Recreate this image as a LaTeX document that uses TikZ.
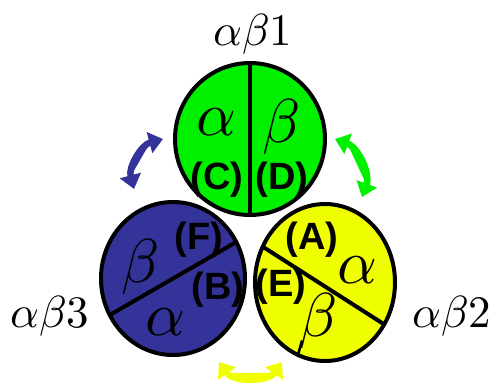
\documentclass[tikz,border=0pt]{standalone}
\usepackage{fontspec}
\usepackage{unicode-math}
\newfontfamily\tagfont{Liberation Sans}
\usetikzlibrary{shapes.geometric,arrows.meta}

\definecolor{unitgreen}{RGB}{0,240,0}
\definecolor{unitblue}{RGB}{51,51,153}
\definecolor{unityellow}{RGB}{240,255,0}

\begin{document}
\begin{tikzpicture}[
  x=1pt, y=-1pt,
  unit/.style={ellipse, draw=black, line width=4pt, inner sep=0pt},
  split/.style={line width=4pt},
  greek/.style={font=\fontsize{62}{62}\selectfont, inner sep=0pt},
  part/.style={font=\tagfont\bfseries\fontsize{38}{38}\selectfont, inner sep=0pt},
  caption/.style={font=\fontsize{45}{45}\selectfont},
  flip/.style={{Triangle[length=14pt,width=21pt]}-{Triangle[length=14pt,width=21pt]}, line width=6.5pt}
]
\useasboundingbox (0,0) rectangle (497,386);

% the three subunits
\node[unit, fill=unitblue, minimum width=144pt, minimum height=153pt,
  path picture={\draw[split] ([shift={(30:120pt)}]path picture bounding box.center)
    -- ([shift={(210:120pt)}]path picture bounding box.center);}] (u3) at (173,278.5) {};
\node[unit, fill=unityellow, minimum width=140pt, minimum height=157pt,
  path picture={\draw[split] ([shift={(147.4:120pt)},yshift=-4pt]path picture bounding box.center)
    -- ([shift={(-32.6:120pt)},yshift=-4pt]path picture bounding box.center);
    \draw[line width=2.5pt] ([shift={(-23pt,-58pt)}]path picture bounding box.center)
    -- ([shift={(-32pt,-90pt)}]path picture bounding box.center);}] (u2) at (325,282.5) {};
\node[unit, fill=unitgreen, minimum width=150pt, minimum height=152pt,
  path picture={\draw[split] ([yshift=90pt]path picture bounding box.center)
    -- ([yshift=-90pt]path picture bounding box.center);}] (u1) at (250,139) {};

% subunit names
\node[caption] (n1) at (253,34) {$\alpha\beta1$};
\node[caption] (n2) at (452,316) {$\alpha\beta2$};
\node[caption] (n3) at (50,316) {$\alpha\beta3$};

% green
\node[greek] (g1) at (216,122) {$\alpha$};
\node[greek] (g2) at (281,127) {$\beta$};
\node[part] (c) at (217,180) {(C)};
\node[part] (d) at (282,180) {(D)};

% blue
\node[greek] (b1) at (140,267) {$\beta$};
\node[greek] (b2) at (165,322) {$\alpha$};
\node[part] (f) at (199,240) {(F)};
\node[part] (b) at (218,290) {(B)};

% yellow
\node[greek] (y1) at (357,270) {$\alpha$};
\node[greek] (y2) at (318,321) {$\beta$};
\node[part] (a) at (312,240) {(A)};
\node[part] (e) at (281,287) {(E)};

% rotation arrows
\coordinate (p1) at (163,139);
\coordinate (p2) at (134,189);
\coordinate (q1) at (335,139);
\coordinate (q2) at (362,197);
\coordinate (r1) at (219,362);
\coordinate (r2) at (282,362);
\draw[flip, draw=unitblue, fill=unitblue] (p1) to[bend right=45] (p2);
\draw[flip, draw=unitgreen, fill=unitgreen] (q1) to[bend left=45] (q2);
\draw[flip, draw=unityellow, fill=unityellow] (r1) to[bend right=55] (r2);
\end{tikzpicture}
\end{document}
